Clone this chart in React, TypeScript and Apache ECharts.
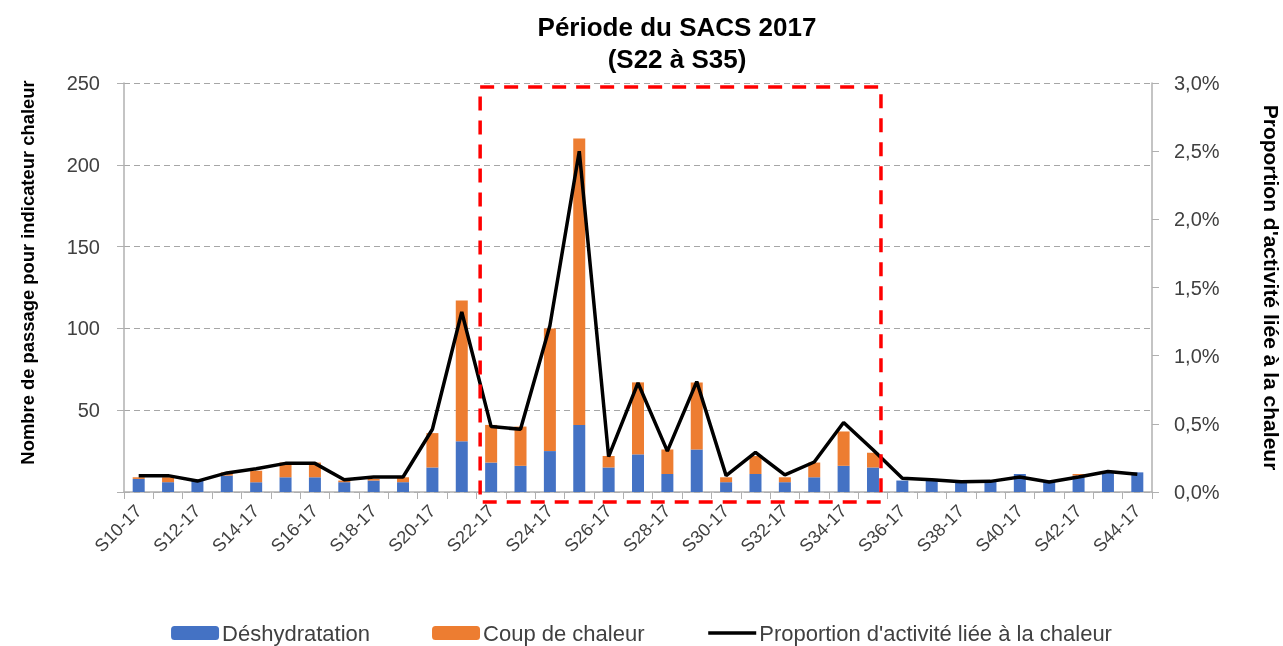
import React, { useEffect, useRef } from 'react';
import * as echarts from 'echarts';

const weeks = [
  'S10-17', 'S11-17', 'S12-17', 'S13-17', 'S14-17', 'S15-17', 'S16-17', 'S17-17', 'S18-17', 'S19-17',
  'S20-17', 'S21-17', 'S22-17', 'S23-17', 'S24-17', 'S25-17', 'S26-17', 'S27-17', 'S28-17', 'S29-17',
  'S30-17', 'S31-17', 'S32-17', 'S33-17', 'S34-17', 'S35-17', 'S36-17', 'S37-17', 'S38-17', 'S39-17',
  'S40-17', 'S41-17', 'S42-17', 'S43-17', 'S44-17',
];

const deshydratation = [
  8, 6, 7, 10, 6, 9, 9, 6, 7, 6,
  15, 31, 18, 16, 25, 41, 15, 23, 11, 26,
  6, 11, 6, 9, 16, 15, 7, 8, 6, 7,
  11, 7, 10, 12, 12,
];

const coupDeChaleur = [
  1, 3, 0, 2, 7, 9, 9, 1, 1, 3,
  21, 86, 23, 24, 75, 175, 7, 44, 15, 41,
  3, 11, 3, 9, 21, 9, 0, 0, 0, 0,
  0, 0, 1, 0, 0,
];

// Proportion d'activité liée à la chaleur, in %
const proportion = [
  0.12, 0.12, 0.08, 0.14, 0.17, 0.21, 0.21, 0.09, 0.11, 0.11,
  0.46, 1.32, 0.48, 0.46, 1.22, 2.5, 0.26, 0.8, 0.3, 0.81,
  0.12, 0.29, 0.125, 0.22, 0.51, 0.31, 0.1, 0.09, 0.075, 0.078,
  0.11, 0.073, 0.11, 0.15, 0.13,
];

const boxStart = 'S22-17';
const boxEnd = 'S35-17';

const legendNames = ['Déshydratation', 'Coup de chaleur', "Proportion d'activité liée à la chaleur"];

const FONT = '"Liberation Sans", Arial, sans-serif';

export default function App() {
  const ref = useRef<HTMLDivElement>(null);

  useEffect(() => {
    const chart = echarts.init(ref.current as HTMLDivElement, null, { renderer: 'svg' });
    chart.setOption({
      animation: false,
      textStyle: { fontFamily: FONT },
      title: {
        text: 'Période du SACS 2017\n(S22 à S35)',
        left: 672,
        textAlign: 'center',
        top: 6,
        textStyle: { fontFamily: FONT, fontSize: 26, fontWeight: 'bold', color: '#000', lineHeight: 32 },
      },
      legend: {
        data: [
          { name: legendNames[0] },
          { name: legendNames[1] },
          { name: legendNames[2], itemStyle: { opacity: 0 }, lineStyle: { width: 3.5 } },
        ],
        top: 617,
        left: 'center',
        itemWidth: 48,
        itemHeight: 14,
        itemGap: 62,
        textStyle: { fontFamily: FONT, fontSize: 22, color: '#404040', padding: [0, 0, 0, -2] },
      },
      grid: { left: 124, right: 131, top: 83, bottom: 154, outerBoundsMode: 'none', containLabel: false },
      xAxis: {
        type: 'category',
        data: weeks,
        boundaryGap: true,
        axisLine: { lineStyle: { color: '#B0B0B0', width: 1.5 } },
        axisTick: { show: true, interval: 0, length: 7, lineStyle: { color: '#B0B0B0' } },
        axisLabel: { interval: 1, rotate: 45, fontSize: 18, color: '#404040', margin: 16, fontFamily: FONT },
        splitLine: { show: false },
      },
      yAxis: [
        {
          type: 'value',
          min: 0,
          max: 250,
          interval: 50,
          name: 'Nombre de passage pour indicateur chaleur',
          nameLocation: 'middle',
          nameGap: 88,
          nameTextStyle: {
            fontFamily: FONT,
            fontSize: 18.4,
            fontWeight: 'bold',
            color: '#000',
            padding: [0, 0, 0, 30],
          },
          axisLine: { show: true, lineStyle: { color: '#B0B0B0', width: 1.5 } },
          axisTick: { show: true, length: 7, lineStyle: { color: '#B0B0B0' } },
          axisLabel: {
            fontSize: 20,
            color: '#404040',
            margin: 24,
            fontFamily: FONT,
            formatter: (v: number) => (v === 0 ? '' : String(v)),
          },
          splitLine: { show: true, lineStyle: { color: '#A6A6A6', type: [6, 4], width: 1 } },
        },
        {
          type: 'value',
          min: 0,
          max: 3,
          interval: 0.5,
          position: 'right',
          name: "Proportion d'activité liée à la chaleur",
          nameLocation: 'middle',
          nameGap: 109,
          nameRotate: -90,
          nameTextStyle: { fontFamily: FONT, fontSize: 21, fontWeight: 'bold', color: '#000' },
          axisLine: { show: true, lineStyle: { color: '#B0B0B0', width: 1.5 } },
          axisTick: { show: true, length: 7, lineStyle: { color: '#B0B0B0' } },
          axisLabel: {
            fontSize: 20,
            color: '#404040',
            margin: 22,
            fontFamily: FONT,
            formatter: (v: number) => v.toFixed(1).replace('.', ',') + '%',
          },
          splitLine: { show: false },
        },
      ],
      series: [
        {
          name: legendNames[0],
          type: 'bar',
          stack: 'total',
          data: deshydratation,
          barWidth: 12,
          itemStyle: { color: '#4472C4' },
        },
        {
          name: legendNames[1],
          type: 'bar',
          stack: 'total',
          data: coupDeChaleur,
          barWidth: 12,
          itemStyle: { color: '#ED7D31' },
        },
        {
          name: legendNames[2],
          type: 'line',
          yAxisIndex: 1,
          data: proportion,
          symbol: 'none',
          showSymbol: false,
          lineStyle: { color: '#000', width: 3.5 },
          itemStyle: { color: '#000' },
          z: 5,
        },
      ],
    });

    const xs = chart.convertToPixel({ xAxisIndex: 0 }, boxStart) as number;
    const xe = chart.convertToPixel({ xAxisIndex: 0 }, boxEnd) as number;
    const yTop = chart.convertToPixel({ yAxisIndex: 0 }, 247.5) as number;
    const yZero = chart.convertToPixel({ yAxisIndex: 0 }, 0) as number;
    const left = xs - 11;
    const right = xe + 8;
    const bottom = yZero + 10;
    chart.setOption({
      graphic: [
        {
          type: 'rect',
          z: 100,
          shape: { x: left, y: yTop, width: right - left, height: bottom - yTop },
          style: { fill: 'none', stroke: '#FF0000', lineWidth: 3.5, lineDash: [14, 10] },
        },
      ],
    });

    return () => chart.dispose();
  }, []);

  return <div ref={ref} style={{ position: 'fixed', left: 0, top: 0, width: 1283, height: 646 }} />;
}
